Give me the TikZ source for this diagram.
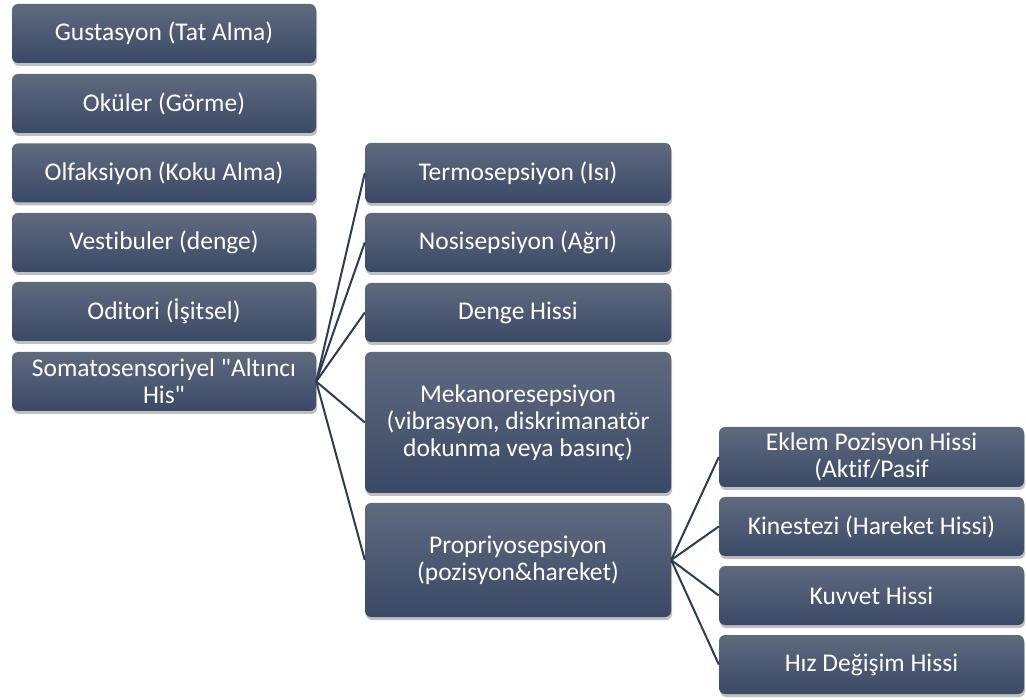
\documentclass[tikz,border=0pt]{standalone}
\usepackage{fontspec}
\setmainfont{Carlito}[Ligatures={TeXOff,NoCommon}]
\usetikzlibrary{shadows}
\definecolor{boxtop}{HTML}{5F6A7E}
\definecolor{boxbot}{HTML}{3A4966}
\definecolor{linec}{HTML}{2F3B52}
\tikzset{
  box/.style={rectangle, rounded corners=6pt, top color=boxtop, bottom color=boxbot,
    draw=none, text=white, align=center, inner sep=2pt,
    font=\fontsize{25.5}{27}\selectfont,
    drop shadow={shadow xshift=1pt, shadow yshift=-3pt, opacity=0.25, fill=black}},
  conn/.style={draw=linec, line width=2pt}
}
\begin{document}
\begin{tikzpicture}[x=1pt,y=-1pt]
\useasboundingbox (0,0) rectangle (1026,700);
% left column
\node[box, minimum width=304pt, minimum height=59pt] (a1) at (164,33.5) {Gustasyon (Tat Alma)};
\node[box, minimum width=304pt, minimum height=59pt] (a2) at (164,103.5) {Oküler (Görme)};
\node[box, minimum width=304pt, minimum height=59pt] (a3) at (164,173) {Olfaksiyon (Koku Alma)};
\node[box, minimum width=304pt, minimum height=59pt] (a4) at (164,242.5) {Vestibuler (denge)};
\node[box, minimum width=304pt, minimum height=59pt] (a5) at (164,311.5) {Oditori (İşitsel)};
\node[box, minimum width=304pt, minimum height=59pt] (a6) at (164,381.5) {Somatosensoriyel "Altıncı\\His"};
% middle column
\node[box, minimum width=306pt, minimum height=60pt] (b1) at (518,173) {Termosepsiyon (Isı)};
\node[box, minimum width=306pt, minimum height=59pt] (b2) at (518,242.5) {Nosisepsiyon (Ağrı)};
\node[box, minimum width=306pt, minimum height=59pt] (b3) at (518,312.5) {Denge Hissi};
\node[box, minimum width=306pt, minimum height=141pt] (b4) at (518,422.5) {Mekanoresepsiyon\\(vibrasyon, diskrimanatör\\dokunma veya basınç)};
\node[box, minimum width=306pt, minimum height=114pt] (b5) at (518,560) {Propriyosepsiyon\\(pozisyon\&hareket)};
% right column
\node[box, minimum width=305pt, minimum height=60pt] (c1) at (871.5,457) {Eklem Pozisyon Hissi\\(Aktif/Pasif};
\node[box, minimum width=305pt, minimum height=59pt] (c2) at (871.5,526.5) {Kinestezi (Hareket Hissi)};
\node[box, minimum width=305pt, minimum height=59pt] (c3) at (871.5,595.5) {Kuvvet Hissi};
\node[box, minimum width=305pt, minimum height=59pt] (c4) at (871.5,664.5) {Hız Değişim Hissi};
% connectors
\foreach \t in {b1,b2,b3,b4,b5} \draw[conn] (a6.east) -- (\t.west);
\foreach \t in {c1,c2,c3,c4} \draw[conn] (b5.east) -- (\t.west);
\end{tikzpicture}
\end{document}
